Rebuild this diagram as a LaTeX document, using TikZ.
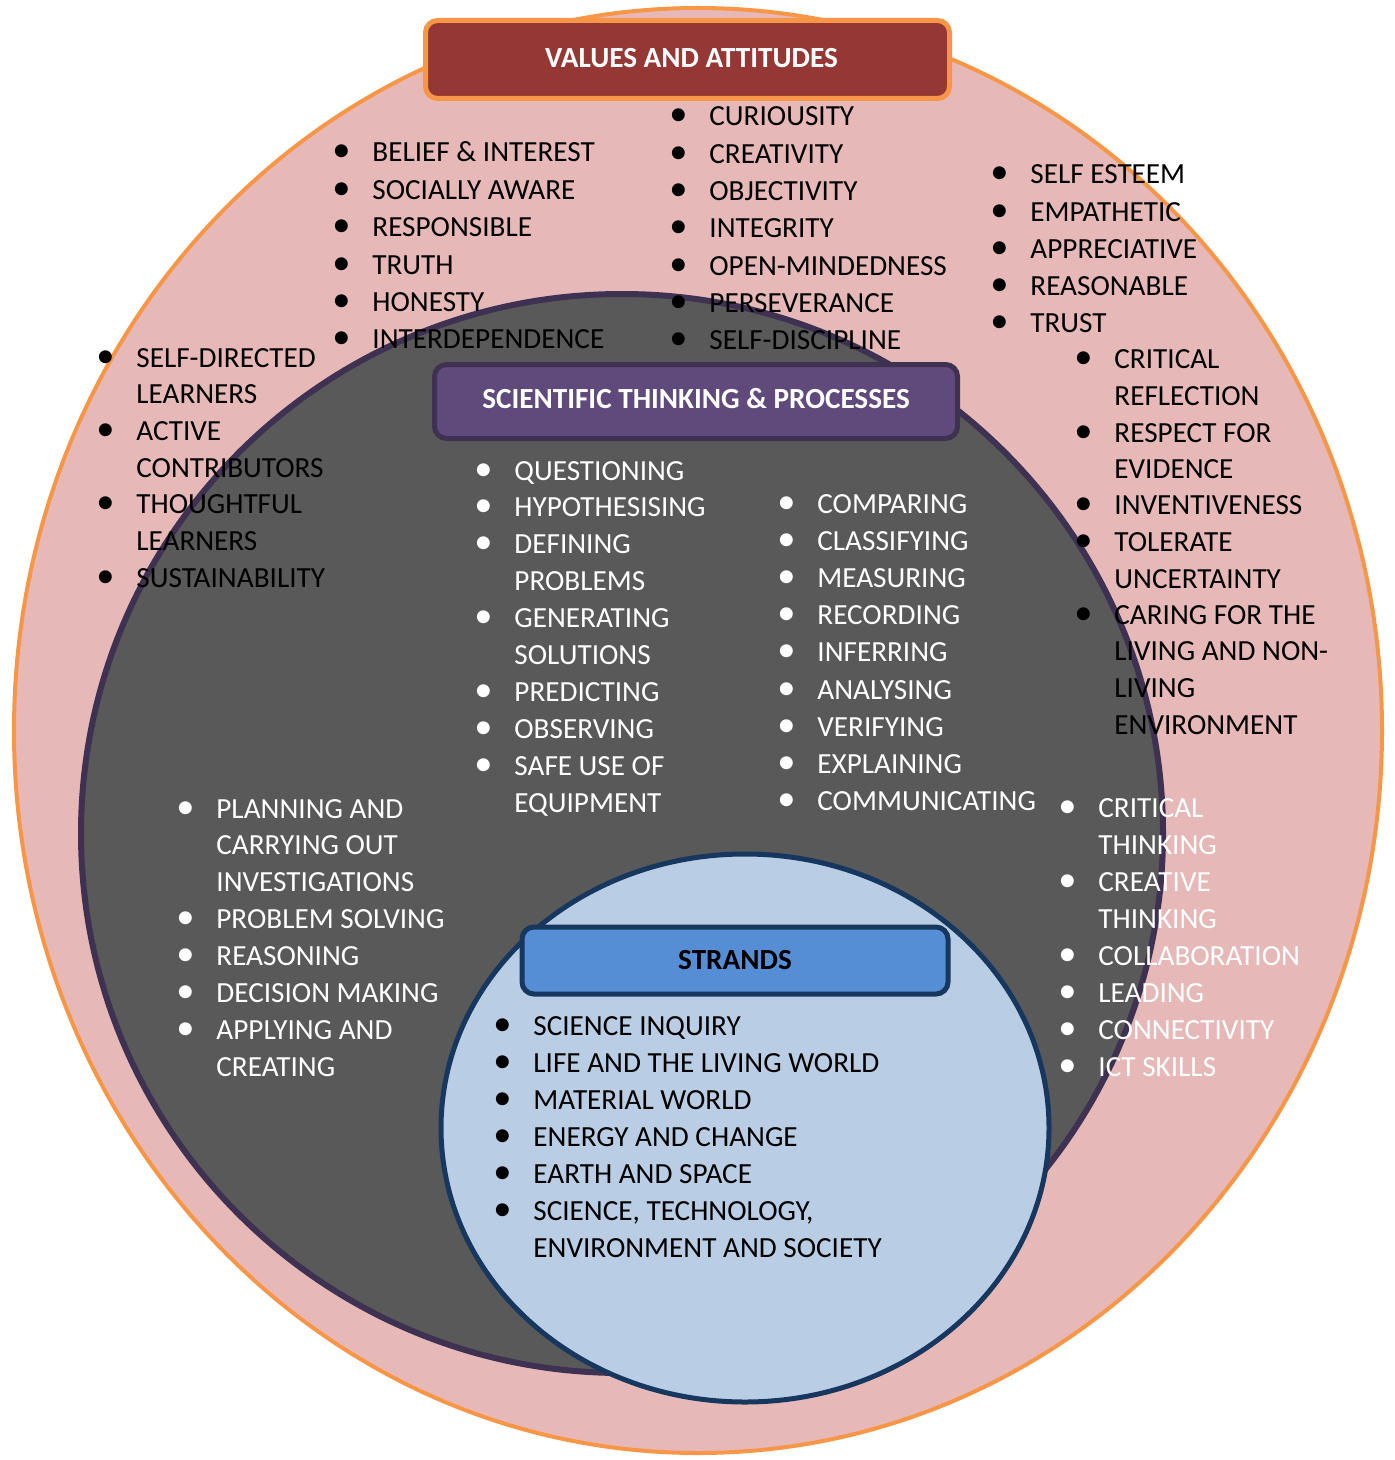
\documentclass[tikz,border=0pt]{standalone}
\usepackage{fontspec}
\setmainfont{Carlito}
\definecolor{outerfill}{HTML}{E6B9B8}
\definecolor{outerline}{HTML}{F79646}
\definecolor{grayfill}{HTML}{595959}
\definecolor{grayline}{HTML}{3F3151}
\definecolor{bluefill}{HTML}{B9CDE5}
\definecolor{blueline}{HTML}{17375E}
\definecolor{valbox}{HTML}{953735}
\definecolor{scibox}{HTML}{604A7B}
\definecolor{strbox}{HTML}{558ED5}
\newcommand\itm{\makebox[0pt]{\scalebox{1.25}{•}}\hspace{15.5pt}}
\newcommand\cnt{\hspace*{15.5pt}}
\begin{document}
\begin{tikzpicture}[x=0.5pt,y=-0.5pt,
  lst/.style={anchor=base west, inner sep=0pt, font=\fontsize{14.6}{#1}\selectfont},
  blk/.style={lst=#1, text=black},
  wht/.style={lst=#1, text=white},
  hdr/.style={rectangle, rounded corners=6pt, line width=2.5pt, inner sep=0pt,
     font=\fontsize{14.6}{17}\selectfont\bfseries},
  ring/.style={line width=#1}
]
\useasboundingbox (0,0) rectangle (1395,1460);
% shapes
\draw[ring=2pt, draw=outerline, fill=outerfill] (698,730.5) ellipse [x radius=684, y radius=722.5];
\draw[ring=3pt, draw=grayline, fill=grayfill] (622,833.5) ellipse [x radius=541, y radius=539.5];
\draw[ring=2.5pt, draw=blueline, fill=bluefill] (745,1128) ellipse [x radius=304, y radius=274];

% header boxes
\node[hdr, draw=outerline, fill=valbox, text=white, minimum width=262pt, minimum height=39pt]
  (values) at (687.5,59.5) {\raisebox{1.8pt}{\hspace{4pt}VALUES AND ATTITUDES}};
\node[hdr, draw=grayline, fill=scibox, text=white, minimum width=261.5pt, minimum height=37pt]
  (sci) at (696,401.5) {\raisebox{2.7pt}{SCIENTIFIC THINKING \& PROCESSES}};
\node[hdr, draw=blueline, fill=strbox, text=black, minimum width=213pt, minimum height=33.5pt]
  (strands) at (735,960.5) {STRANDS};

% values lists
\node[blk=18.7pt] (v1) at (341,162) {\begin{tabular}[t]{@{}l@{}}
\itm BELIEF \& INTEREST\\ \itm SOCIALLY AWARE\\ \itm RESPONSIBLE\\ \itm TRUTH\\ \itm HONESTY\\ \itm INTERDEPENDENCE
\end{tabular}};
\node[blk=18.65pt] (v2) at (678,126) {\begin{tabular}[t]{@{}l@{}}
\itm CURIOUSITY\\ \itm CREATIVITY\\ \itm OBJECTIVITY\\ \itm INTEGRITY\\ \itm OPEN-MINDEDNESS\\ \itm PERSEVERANCE\\ \itm SELF-DISCIPLINE
\end{tabular}};
\node[blk=18.6pt] (v3) at (999,184) {\begin{tabular}[t]{@{}l@{}}
\itm SELF ESTEEM\\ \itm EMPATHETIC\\ \itm APPRECIATIVE\\ \itm REASONABLE\\ \itm TRUST
\end{tabular}};
\node[blk=18.25pt] (v4) at (1083,369) {\begin{tabular}[t]{@{}l@{}}
\itm CRITICAL\\ \cnt REFLECTION\\ \itm RESPECT FOR\\ \cnt EVIDENCE\\ \itm INVENTIVENESS\\ \itm TOLERATE\\ \cnt UNCERTAINTY\\ \itm CARING FOR THE\\ \cnt LIVING AND NON-\\ \cnt LIVING\\ \cnt ENVIRONMENT
\end{tabular}};
\node[blk=18.35pt] (v5) at (105,367) {\begin{tabular}[t]{@{}l@{}}
\itm SELF-DIRECTED\\ \cnt LEARNERS\\ \itm ACTIVE\\ \cnt CONTRIBUTORS\\ \itm THOUGHTFUL\\ \cnt LEARNERS\\ \itm SUSTAINABILITY
\end{tabular}};

% scientific thinking lists
\node[wht=18.45pt] (s1) at (483,480) {\begin{tabular}[t]{@{}l@{}}
\itm QUESTIONING\\ \itm HYPOTHESISING\\ \itm DEFINING\\ \cnt PROBLEMS\\ \itm GENERATING\\ \cnt SOLUTIONS\\ \itm PREDICTING\\ \itm OBSERVING\\ \itm SAFE USE OF\\ \cnt EQUIPMENT
\end{tabular}};
\node[wht=18.62pt] (s2) at (786,513) {\begin{tabular}[t]{@{}l@{}}
\itm COMPARING\\ \itm CLASSIFYING\\ \itm MEASURING\\ \itm RECORDING\\ \itm INFERRING\\ \itm ANALYSING\\ \itm VERIFYING\\ \itm EXPLAINING\\ \itm COMMUNICATING
\end{tabular}};
\node[wht=18.43pt] (s3) at (185,818) {\begin{tabular}[t]{@{}l@{}}
\itm PLANNING AND\\ \cnt CARRYING OUT\\ \cnt INVESTIGATIONS\\ \itm PROBLEM SOLVING\\ \itm REASONING\\ \itm DECISION MAKING\\ \itm APPLYING AND\\ \cnt CREATING
\end{tabular}};
\node[wht=18.5pt] (s4) at (1067,817) {\begin{tabular}[t]{@{}l@{}}
\itm CRITICAL\\ \cnt THINKING\\ \itm CREATIVE\\ \cnt THINKING\\ \itm COLLABORATION\\ \itm LEADING\\ \itm CONNECTIVITY\\ \itm ICT SKILLS
\end{tabular}};

% strands list
\node[blk=18.5pt] (st) at (502,1035) {\begin{tabular}[t]{@{}l@{}}
\itm SCIENCE INQUIRY\\ \itm LIFE AND THE LIVING WORLD\\ \itm MATERIAL WORLD\\ \itm ENERGY AND CHANGE\\ \itm EARTH AND SPACE\\ \itm SCIENCE, TECHNOLOGY,\\ \cnt ENVIRONMENT AND SOCIETY
\end{tabular}};
\end{tikzpicture}
\end{document}
